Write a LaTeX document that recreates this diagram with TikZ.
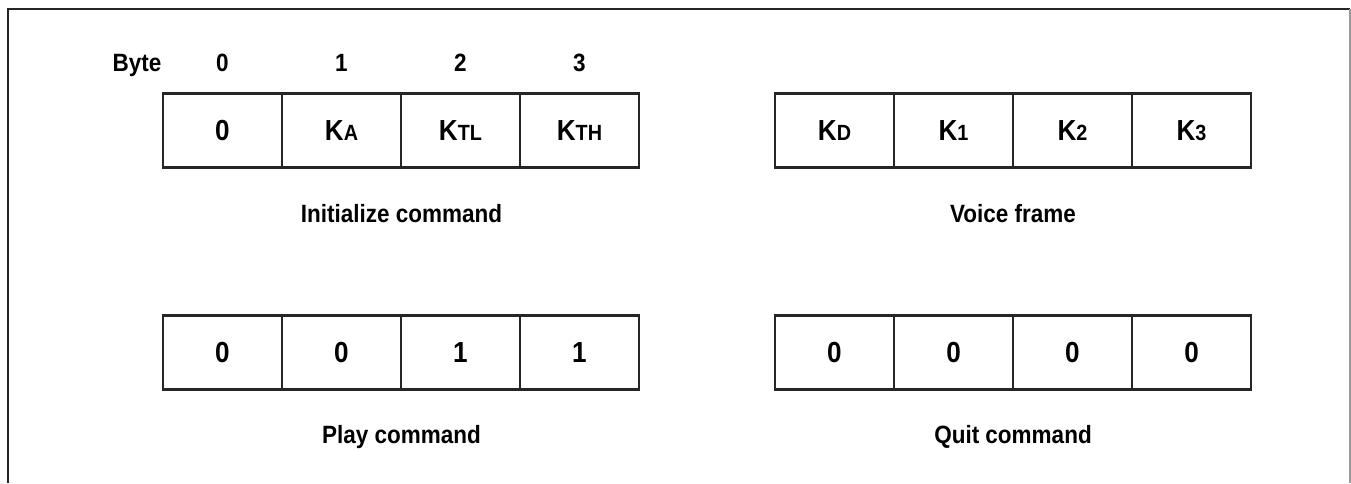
\documentclass[tikz,border=0pt]{standalone}
\usepackage{fontspec}
\setmainfont{Liberation Sans}[FakeStretch=0.9]
\usepackage{tikz}
\newcommand{\keysub}[1]{K{\fontsize{11}{13}\selectfont #1}}
\tikzset{
	cellstyle/.style={rectangle,draw=black!85,line width=1.2pt,outer sep=0pt,inner sep=0pt,minimum width=59.5pt,minimum height=37pt,font=\bfseries\fontsize{14.5}{16}\selectfont},
	headstyle/.style={anchor=base,inner sep=0pt,font=\bfseries\fontsize{12.5}{15}\selectfont},
	labelstyle/.style={anchor=base,inner sep=0pt,font=\bfseries\fontsize{12.5}{15}\selectfont},
	framestyle/.style={draw=black!85,line width=0.8pt}
}
\begin{document}
\begin{tikzpicture}[x=0.5pt,y=-0.5pt]
		\useasboundingbox (0,0) rectangle (1351,483);
		\draw[framestyle] (8,483) -- (8,9) -- (1350,9);
		\draw[framestyle,draw=black!40] (1350,9) -- (1350,483);
		% byte numbers
		\node[headstyle] (byte) at (137,71) {Byte};
		\node[headstyle] (n0) at (222.5,71) {0};
		\node[headstyle] (n1) at (341.5,71) {1};
		\node[headstyle] (n2) at (460.5,71) {2};
		\node[headstyle] (n3) at (579.5,71) {3};
		% initialize command
		\node[cellstyle] (i0) at (222.5,130.5) {0};
		\node[cellstyle] (i1) at (341.5,130.5) {\keysub{A}};
		\node[cellstyle] (i2) at (460.5,130.5) {\keysub{TL}};
		\node[cellstyle] (i3) at (579.5,130.5) {\keysub{TH}};
		\node[labelstyle] (init) at (401.5,222) {Initialize command};
		% voice frame
		\node[cellstyle] (v0) at (834.5,130.5) {\keysub{D}};
		\node[cellstyle] (v1) at (953.5,130.5) {\keysub{1}};
		\node[cellstyle] (v2) at (1072.5,130.5) {\keysub{2}};
		\node[cellstyle] (v3) at (1191.5,130.5) {\keysub{3}};
		\node[labelstyle] (voice) at (1013,222) {Voice frame};
		% play command
		\node[cellstyle] (p0) at (222.5,352.5) {0};
		\node[cellstyle] (p1) at (341.5,352.5) {0};
		\node[cellstyle] (p2) at (460.5,352.5) {1};
		\node[cellstyle] (p3) at (579.5,352.5) {1};
		\node[labelstyle] (play) at (401.5,443) {Play command};
		% quit command
		\node[cellstyle] (q0) at (834.5,352.5) {0};
		\node[cellstyle] (q1) at (953.5,352.5) {0};
		\node[cellstyle] (q2) at (1072.5,352.5) {0};
		\node[cellstyle] (q3) at (1191.5,352.5) {0};
		\node[labelstyle] (quit) at (1013,443) {Quit command};
		\end{tikzpicture}
\end{document}
